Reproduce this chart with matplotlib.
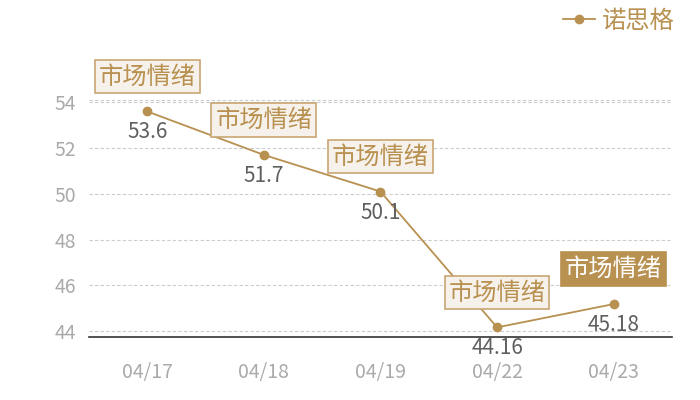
import matplotlib
matplotlib.use("Agg")
import matplotlib.pyplot as plt

plt.rcParams['font.family'] = ['Noto Sans CJK SC', 'DejaVu Sans']

## DATA
dates = ['04/17', '04/18', '04/19', '04/22', '04/23']
values = [53.6, 51.7, 50.1, 44.16, 45.18]
value_labels = ['53.6', '51.7', '50.1', '44.16', '45.18']
tag_text = '市场情绪'
series_name = '诺思格'
y_ticks = [44, 46, 48, 50, 52, 54]

gold = '#B8904F'
grey_tick = '#AAAAAA'
grey_val = '#5F5F5F'

fig = plt.figure(figsize=(7, 4), dpi=100)
ax = fig.add_axes([0.127, 0.1575, 0.833, 0.5925])

x = list(range(len(dates)))
ax.plot(x, values, color=gold, lw=1.3, marker='o', markersize=6,
        markerfacecolor=gold, markeredgecolor=gold, label=series_name, zorder=3)

ax.set_xlim(-0.5, len(dates) - 0.5)
ax.set_ylim(43.74, 54.1)
ax.set_yticks(y_ticks)
ax.set_xticks(x)
ax.set_xticklabels(dates)
ax.tick_params(axis='both', length=0, colors=grey_tick, labelsize=14)
ax.tick_params(axis='x', pad=18)
ax.tick_params(axis='y', pad=9)

# grid
for yv in y_ticks:
    ax.axhline(yv, color='#CCCCCC', lw=0.8, ls=(0, (3, 2)), zorder=1)
ax.axhline(54.1, color='#CCCCCC', lw=0.8, ls=(0, (3, 2)), zorder=1, clip_on=False)
for s in ['top', 'right', 'left']:
    ax.spines[s].set_visible(False)
ax.spines['bottom'].set_color('#333333')
ax.spines['bottom'].set_linewidth(1.2)

# value labels and tags
for i, (v, lab) in enumerate(zip(values, value_labels)):
    ax.annotate(lab, (i, v), xytext=(0, -21), textcoords='offset pixels',
                ha='center', va='center', fontsize=15, color=grey_val, zorder=4)
    last = i == len(values) - 1
    ax.annotate(tag_text, (i, v), xytext=(0, 35), textcoords='offset pixels',
                ha='center', va='center', fontsize=17.5,
                color='white' if last else gold, zorder=5, annotation_clip=False,
                bbox=dict(boxstyle='square,pad=0.16',
                          fc=gold if last else '#F6F1EA',
                          ec=gold if last else '#C8A672', lw=1.2))

fig.legend(loc='upper right', bbox_to_anchor=(0.995, 1.035), frameon=False,
           labelcolor=gold, fontsize=17.5, handlelength=1.3, handletextpad=0.3)

fig.savefig('out.png', dpi=100)
